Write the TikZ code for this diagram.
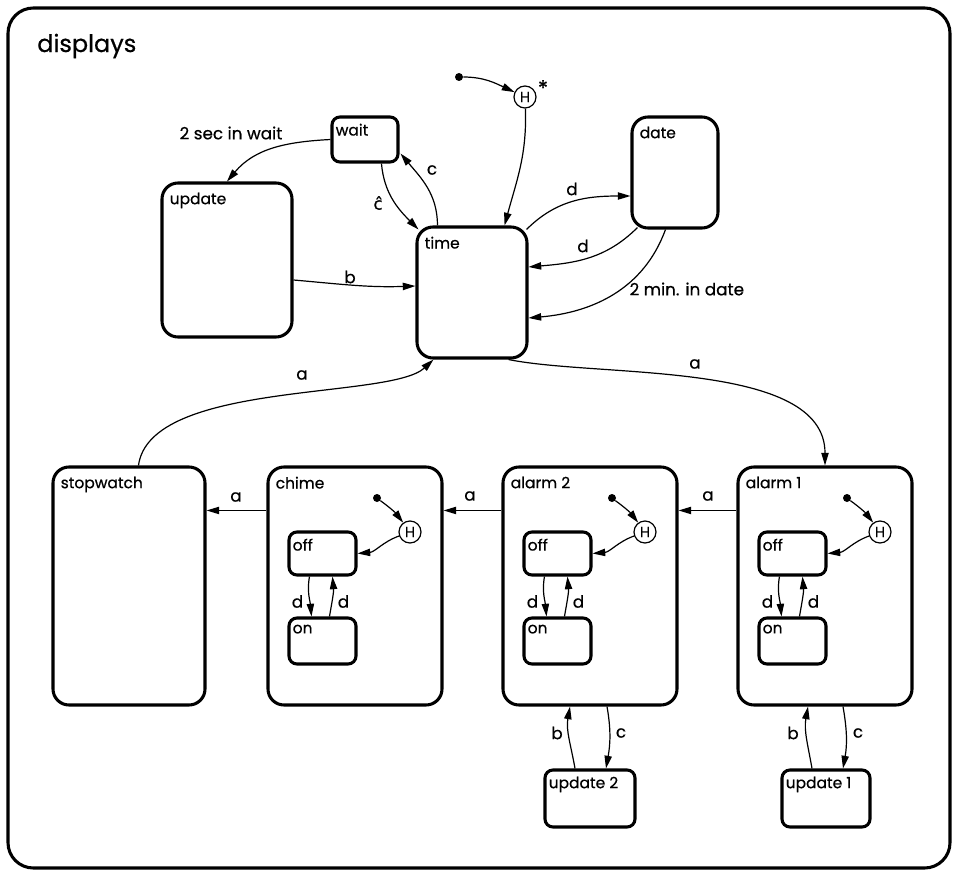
\documentclass[tikz,border=0pt]{standalone}
\usepackage{fontspec}
\setmainfont{Poppins}[FakeBold=0.6]
\newfontfamily\dejavu{DejaVu Sans}[FakeBold=0.6]
\usetikzlibrary{arrows.meta,calc,fit}
\newcommand\bst[6]{\node[st, fit={(#2,-#3) (#4,-#5)}] (#1) {};
  \node[nm, anchor=north west] (#1-l) at ($(#1.north west)+(9,-11)$) {#6};}
\newcommand\sst[6]{\node[sst, fit={(#2,-#3) (#4,-#5)}] (#1) {};
  \node[nm, anchor=north west] (#1-l) at ($(#1.north west)+(5,-8)$) {#6};}
\newcommand\substates[2]{%
  \sst{#1off}{#2+21}{532}{#2+88}{575}{off}
  \sst{#1on}{#2+21}{618}{#2+88}{664}{on}
  \node[hist] (#1h) at (#2+142,-532) {H};
  \node[dotst] (#1dot) at (#2+109,-498) {};
  \draw[tr] (#1dot) to[bend left=8] (#1h);
  \draw[tr] (#1h) to[out=200,in=5] (#1off.east);
  \draw[tr] ($(#1off.south west)+(22,0)$) to[out=-100,in=95] ($(#1on.north west)+(24,0)$);
  \draw[tr] ($(#1on.north west)+(42,0)$) to[out=80,in=-85] ($(#1off.south west)+(45,0)$);
  \node[lbl] (#1dl) at ($(#1off.south west)+(10,-25)$) {d};
  \node[lbl] (#1dr) at ($(#1off.south west)+(56,-25)$) {d};
}
\begin{document}
\begin{tikzpicture}[x=0.75pt,y=0.75pt,
  st/.style={draw, line width=2.3pt, rounded corners=12pt, inner sep=0pt},
  sst/.style={draw, line width=2.3pt, rounded corners=6pt, inner sep=0pt},
  nm/.style={font=\fontsize{11.6}{13}\selectfont, inner sep=0pt},
  tr/.style={line width=0.9pt, -{Triangle[length=9.5pt,width=5.5pt]}},
  lbl/.style={font=\fontsize{12.6}{14}\selectfont, inner sep=1pt},
  hist/.style={circle, draw, line width=0.9pt, minimum size=16.5pt, inner sep=0pt, font=\fontsize{11}{11}\selectfont},
  dotst/.style={circle, fill, minimum size=6pt, inner sep=0pt}]
\useasboundingbox (0,0) rectangle (953,-881);
\node[draw, line width=2.3pt, rounded corners=19pt, inner sep=0pt, fit={(8,-8) (950,-868)}] (displays) {};
\node[font=\fontsize{18}{21}\selectfont, anchor=west, inner sep=0pt] (displays-l) at (37,-46) {displays};

% top states
\bst{update}{162}{183}{292}{337}{update}
\sst{wait}{332}{117}{398}{162}{wait}
\bst{time}{417}{227}{527}{358}{time}
\bst{date}{632}{117}{718}{228}{date}

% history entry
\node[dotst] (topdot) at (459,-77) {};
\node[hist] (hH) at (525,-97) {H};
\node[font=\fontsize{16}{16}\selectfont, inner sep=0pt] (hstar) at (543,-88) {*};
\draw[tr] (topdot) to[out=0,in=155] (hH);
\draw[tr] (hH) to[out=-88,in=75] ($(time.north east)+(-24,0)$);

% top transitions
\draw[tr] (wait.west) to[out=183,in=50] (update.north);
\node[lbl, anchor=west] (l2sec) at (178,-133) {2 sec in wait};
\draw[tr] ($(wait.south west)+(51,0)$) to[out=-85,in=135] ($(time.north west)+(3,-4)$);
\node[lbl] (lchat) at (378,-203) {\dejavu ĉ};
\draw[tr] ($(time.north west)+(22,0)$) to[out=90,in=-50] ($(wait.south east)+(1,10)$);
\node[lbl] (lc) at (432,-170) {c};
\draw[tr] ($(update.east)+(0,-20)$) to[out=-5,in=182] ($(time.west)+(0,6.5)$);
\node[lbl] (lb) at (350,-277) {b};
\draw[tr] ($(time.north east)+(-2,-4)$) to[out=45,in=180] ($(date.west)+(0,-23.5)$);
\node[lbl] (ld1) at (572,-189) {d};
\draw[tr] ($(date.south west)+(7,2)$) to[out=-135,in=5] ($(time.east)+(0,25.5)$);
\node[lbl] (ld2) at (583,-246) {d};
\draw[tr] ($(date.south west)+(35,0)$) to[out=-110,in=5] ($(time.east)+(0,-25.5)$);
\node[lbl, anchor=west] (l2min) at (628,-289) {2 min. in date};

% bottom states
\bst{stopwatch}{53}{467}{205}{705}{stopwatch}
\bst{chime}{268}{467}{442}{705}{chime}
\bst{alarm2}{503}{467}{677}{705}{alarm 2}
\bst{alarm1}{738}{467}{912}{705}{alarm 1}
\sst{update2}{545}{770}{635}{827}{update 2}
\sst{update1}{782}{770}{870}{827}{update 1}

\substates{ch}{268}
\substates{atwo}{503}
\substates{aone}{738}

% a transitions
\draw[tr] ($(time.south east)+(-20,0)$) .. controls (600,-378) and (825,-360) .. (alarm1.north);
\node[lbl] (la1) at (695,-364) {a};
\draw[tr] ($(stopwatch.north west)+(87,0)$) .. controls (150,-380) and (390,-400) .. ($(time.south west)+(18,0)$);
\node[lbl] (la2) at (302,-375) {a};
\draw[tr] ($(chime.north west)+(0,-45)$) -- ($(stopwatch.north east)+(0,-45)$);
\node[lbl] (la3) at (236,-497) {a};
\draw[tr] ($(alarm2.north west)+(0,-45)$) -- ($(chime.north east)+(0,-45)$);
\node[lbl] (la4) at (470,-496) {a};
\draw[tr] ($(alarm1.north west)+(0,-45)$) -- ($(alarm2.north east)+(0,-45)$);
\node[lbl] (la5) at (708,-496) {a};

% update transitions
\draw[tr] ($(update2.north)+(-15,0)$) to[out=100,in=-100] ($(alarm2.south)+(-20,0)$);
\node[lbl] (lb2) at (557,-733) {b};
\draw[tr] ($(alarm2.south)+(17,0)$) to[out=-80,in=80] ($(update2.north)+(16,0)$);
\node[lbl] (lc2) at (621,-733) {c};
\draw[tr] ($(update1.north)+(-14,0)$) to[out=100,in=-100] ($(alarm1.south)+(-17,0)$);
\node[lbl] (lb1) at (793,-733) {b};
\draw[tr] ($(alarm1.south)+(18,0)$) to[out=-80,in=80] ($(update1.north)+(17,0)$);
\node[lbl] (lc1) at (858,-733) {c};
\end{tikzpicture}
\end{document}
